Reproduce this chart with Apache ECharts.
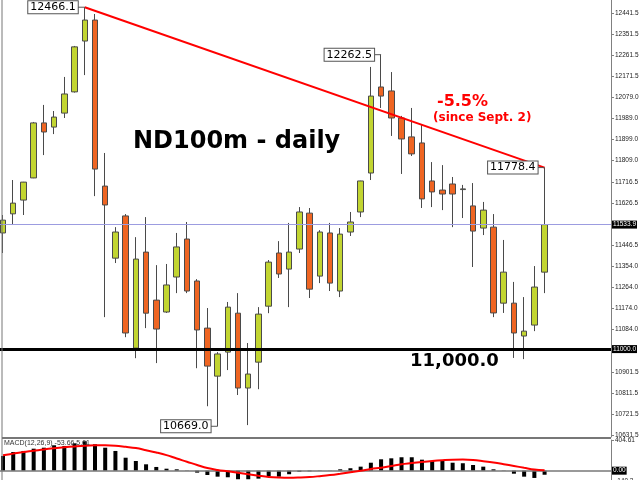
<!DOCTYPE html>
<html><head><meta charset="utf-8">
<script src="https://cdn.jsdelivr.net/npm/echarts@6/dist/echarts.min.js"></script>
<style>html,body{margin:0;padding:0;background:#fff}#c{width:640px;height:480px}</style>
</head><body><div id="c"></div>
<script>
// ---- data (daily candles) ----
const opens  = [11498,11580,11639,11734,11970,11952,12012,12103,12321,12411,11699,11390,11571,11004,11416,11210,11159,11309,11472,11292,11090,10884,10987,11154,10833,10944,11184,11412,11343,11429,11583,11313,11498,11249,11502,11588,11755,12124,12107,11991,11910,11884,11721,11682,11708,11684,11614,11519,11523,11197,11197,11056,11103,11330];
const closes = [11553,11626,11716,11970,11931,11995,12094,12296,12411,11772,11618,11502,11069,11386,11154,11086,11275,11438,11249,11082,10927,10979,11180,10833,10893,11150,11373,11322,11416,11588,11257,11502,11283,11493,11545,11721,12085,12085,11991,11901,11837,11644,11674,11665,11665,11687,11506,11596,11155,11330,11069,11077,11266,11533.9];
const lows   = [11412,11532,11575,11733,11832,11922,11991,12100,12175,11656,11137,11369,11051,10961,11090,10940,11155,11240,11240,10918,10755,10669,10910,10803,10674,10828,11154,11305,11180,11412,11219,11283,11249,11223,11485,11566,11725,12034,11914,11751,11828,11605,11609,11596,11523,11562,11352,11489,11137,11155,10962,10957,11077,11240];
const highs  = [11575,11725,11717,11974,12047,12021,12167,12300,12466.1,12437,11841,11523,11579,11480,11566,11360,11365,11498,11545,11300,11176,10987,11202,11240,11026,11180,11382,11463,11541,11609,11605,11510,11541,11519,11588,11722,12210,12262.5,12188,12000,12034,11961,11802,11789,11738,11704,11712,11631,11579,11468,11288,11223,11356,11778.4];
const macdHist   = [194,246,260,290,303,335,326,361,388,348,303,260,171,128,84,49,26,18,3,-26,-57,-79,-87,-113,-113,-105,-70,-79,-47,-13,-8,-3,2,18,32,53,105,150,163,177,177,145,128,128,105,98,75,53,18,-3,-40,-79,-96,-53.66];
const macdSignal = [203,225,245,262,280,295,308,320,330,335,336,330,315,298,270,240,205,160,118,75,35,10,-8,-28,-48,-66,-82,-90,-93,-90,-84,-72,-58,-40,-20,0,22,40,62,85,100,115,128,138,145,146,140,125,108,86,62,38,15,5.01];
const priceTicks = [12441.5,12351.5,12261.5,12171.5,12079.0,11989.0,11899.0,11809.0,11716.5,11626.5,11446.5,11354.0,11264.0,11174.0,11084.0,10901.5,10811.5,10721.5,10631.5];
const macdTicks = [404.61,-140.2];
const currentPrice = 11533.9;
const supportLevel = 11000.0;
const slotCount = 60; // 54 candles + empty right margin (chart shift)

// ---- build ----
const cats = [];
for (let i = 0; i < slotCount; i++) cats.push('D' + (i + 1));
const candleData = opens.map((o, i) => [o, closes[i], lows[i], highs[i]]);

const smallFont = 'Liberation Sans';
const boxLabel = {
  show: true, position: 'left', distance: 0,
  backgroundColor: '#fff', borderColor: '#555', borderWidth: 1,
  padding: [1, 2, 0, 2], fontSize: 11, fontFamily: 'DejaVu Sans', color: '#000',
  formatter: p => p.data.txt
};
const hiBox = (txt) => ({
  show: true, position: 'end', distance: 1, formatter: txt,
  backgroundColor: '#000', color: '#fff', fontSize: 6.5, fontFamily: smallFont,
  padding: [1, 1, 0, 1]
});
const iHi1 = 8, iHi2 = 37, iLo = 21, iLast = 53;

const chart = echarts.init(document.getElementById('c'));
chart.setOption({
  animation: false,
  backgroundColor: '#fff',
  title: [
    { text: 'ND100m - daily', left: 133, top: 130, padding: 0,
      textStyle: { fontFamily: 'DejaVu Sans', fontWeight: 'bold', fontSize: 24, color: '#000' } },
    { text: '-5.5%', left: 437, top: 94, padding: 0,
      textStyle: { fontFamily: 'DejaVu Sans', fontWeight: 'bold', fontSize: 16, color: '#ff0000' } },
    { text: '(since Sept. 2)', left: 433, top: 112, padding: 0,
      textStyle: { fontFamily: 'DejaVu Sans', fontWeight: 'bold', fontSize: 12, color: '#ff0000' } },
    { text: '11,000.0', left: 410, top: 352, padding: 0,
      textStyle: { fontFamily: 'DejaVu Sans', fontWeight: 'bold', fontSize: 18, color: '#000' } },
    { text: 'MACD(12,26,9) -53.66 5.01', left: 4, top: 440, padding: 0,
      textStyle: { fontFamily: smallFont, fontWeight: 'normal', fontSize: 7, color: '#333' } }
  ],
  grid: [
    { left: -2.1, right: 29, top: 0, height: 437, outerBoundsMode: 'none', containLabel: false },
    { left: -2.1, right: 29, top: 440, height: 41.3, outerBoundsMode: 'none', containLabel: false }
  ],
  xAxis: [
    { type: 'category', gridIndex: 0, data: cats, boundaryGap: true,
      axisLine: { show: false }, axisTick: { show: false }, axisLabel: { show: false }, splitLine: { show: false } },
    { type: 'category', gridIndex: 1, data: cats, boundaryGap: true,
      axisLine: { show: false }, axisTick: { show: false }, axisLabel: { show: false }, splitLine: { show: false } }
  ],
  yAxis: [
    { type: 'value', gridIndex: 0, position: 'right', min: 10623, max: 12497,
      axisLine: { show: true, lineStyle: { color: '#808080', width: 1 } },
      axisTick: { show: true, length: 3, customValues: priceTicks, lineStyle: { color: '#808080' } },
      axisLabel: { customValues: priceTicks, formatter: v => v.toFixed(1), fontSize: 6.5, fontFamily: smallFont, color: '#222', margin: 4 },
      splitLine: { show: false } },
    { type: 'value', gridIndex: 1, position: 'right', min: -140.2, max: 404.61,
      axisLine: { show: true, lineStyle: { color: '#808080', width: 1 } },
      axisTick: { show: true, length: 3, customValues: macdTicks, lineStyle: { color: '#808080' } },
      axisLabel: { customValues: macdTicks, formatter: v => (v === 404.61 ? '404.61' : v.toFixed(1)), fontSize: 6.5, fontFamily: smallFont, color: '#222', margin: 4 },
      splitLine: { show: false } }
  ],
  series: [
    {
      type: 'candlestick', xAxisIndex: 0, yAxisIndex: 0, data: candleData, barWidth: 6,
      itemStyle: { color: '#c2d531', color0: '#ef6522', borderColor: '#4a4a4a', borderColor0: '#4a4a4a', borderColorDoji: '#4a4a4a', borderWidth: 1 },
      markLine: {
        silent: true, symbol: ['none', 'none'], animation: false,
        data: [
          { yAxis: currentPrice, lineStyle: { color: '#9c9ce0', width: 1, type: 'solid' }, label: hiBox(currentPrice.toFixed(1)) },
          { yAxis: supportLevel, lineStyle: { color: '#000', width: 3, type: 'solid' }, label: hiBox(supportLevel.toFixed(1)) },
          [
            { coord: [cats[iHi1], highs[iHi1]], lineStyle: { color: '#ff0000', width: 2, type: 'solid' }, label: { show: false } },
            { coord: [cats[iLast], highs[iLast]], lineStyle: { color: '#ff0000', width: 2, type: 'solid' }, label: { show: false } }
          ]
        ]
      },
      markPoint: {
        silent: true, animation: false,
        symbol: 'rect', symbolSize: [7, 1], symbolOffset: [-3.5, 0],
        itemStyle: { color: '#555' },
        label: boxLabel,
        data: [
          { coord: [cats[iHi1], highs[iHi1]], txt: highs[iHi1].toFixed(1) },
          { coord: [cats[iHi2], highs[iHi2]], txt: highs[iHi2].toFixed(1) },
          { coord: [cats[iLo], lows[iLo]], txt: lows[iLo].toFixed(1) },
          { coord: [cats[iLast], highs[iLast]], txt: highs[iLast].toFixed(1) }
        ]
      }
    },
    {
      type: 'bar', xAxisIndex: 1, yAxisIndex: 1, data: macdHist, barWidth: 4,
      itemStyle: { color: '#000' },
      markLine: {
        silent: true, symbol: ['none', 'none'], animation: false,
        data: [{ yAxis: 0, lineStyle: { color: '#777', width: 1.5, type: 'solid' }, label: hiBox('0.00') }]
      }
    },
    {
      type: 'line', xAxisIndex: 1, yAxisIndex: 1, data: macdSignal, symbol: 'none', smooth: 0.4,
      lineStyle: { color: '#ff0000', width: 2 }, z: 5
    }
  ],
  graphic: [
    { type: 'line', shape: { x1: 2, y1: 0, x2: 2, y2: 480 }, style: { stroke: '#777', lineWidth: 1 }, z: 100 },
    { type: 'line', shape: { x1: 2, y1: 438, x2: 611, y2: 438 }, style: { stroke: '#777', lineWidth: 2 }, z: 100 }
  ]
});
</script></body></html>
